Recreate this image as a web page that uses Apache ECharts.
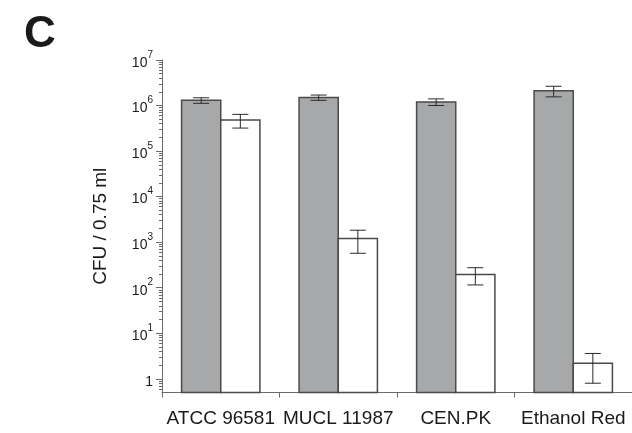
<!DOCTYPE html>
<html>
<head>
<meta charset="utf-8">
<script src="https://cdn.jsdelivr.net/npm/echarts@6/dist/echarts.min.js"></script>
<style>
  html, body { margin: 0; padding: 0; background: #fff; }
  #chart { width: 632px; height: 433px; }
</style>
</head>
<body>
<div id="chart"></div>
<script>
// Strains on the x axis
const strains = ['ATCC 96581', 'MUCL 11987', 'CEN.PK', 'Ethanol Red'];

// Grey bars: CFU per 0.75 ml with standard deviation
const cfuGrey = [1.3e6, 1.5e6, 1.2e6, 2.1e6];
const sdGrey = [0.18e6, 0.2e6, 0.2e6, 0.55e6];

// Open bars: CFU per 0.75 ml with standard deviation
const cfuOpen = [4.8e5, 1200, 195, 2.2];
const sdOpen = [1.6e5, 630, 80, 1.4];

// Log axis range and tick marks
const yMin = 0.5;
const yMax = 1e7;
const majorTicks = [1, 10, 100, 1e3, 1e4, 1e5, 1e6, 1e7];
const minorMultipliers = [2, 3, 4, 5, 6, 7, 8, 9];

const minorTicks = [0.6, 0.7, 0.8, 0.9];
majorTicks.slice(0, -1).forEach(function (d) {
  minorMultipliers.forEach(function (m) { minorTicks.push(m * d); });
});

const FONT = "'Liberation Sans', Arial, Helvetica, sans-serif";
const INK = '#1a1a1a';
const AXIS = '#6b6b6b';
const EDGE = '#4a4a4a';

function pairs(values, sds) {
  return values.map(function (v, i) { return sds ? [i, v, sds[i]] : [i, v]; });
}

// Bars sit side by side in each category, each a third of the band wide,
// and rise from the bottom of the log axis.
function barRenderer(side, fill) {
  return function (params, api) {
    const i = api.value(0);
    const top = api.coord([i, api.value(1)]);
    const base = api.coord([i, yMin]);
    const w = api.size([1, 1])[0] / 3;
    const x = side < 0 ? top[0] - w : top[0];
    return {
      type: 'rect',
      shape: { x: x, y: top[1], width: w, height: base[1] - top[1] },
      style: { fill: fill, stroke: EDGE, lineWidth: 1.5 }
    };
  };
}

function errorRenderer(side) {
  return function (params, api) {
    const i = api.value(0);
    const v = api.value(1);
    const sd = api.value(2);
    const c = api.coord([i, v]);
    const w = api.size([1, 1])[0] / 3;
    const cx = c[0] + side * w / 2;
    const hi = api.coord([i, v + sd])[1];
    const lo = api.coord([i, v - sd])[1];
    const cap = 8;
    const st = { stroke: '#2a2a2a', lineWidth: 1 };
    return {
      type: 'group',
      children: [
        { type: 'line', shape: { x1: cx, y1: hi, x2: cx, y2: lo }, style: st },
        { type: 'line', shape: { x1: cx - cap, y1: hi, x2: cx + cap, y2: hi }, style: st },
        { type: 'line', shape: { x1: cx - cap, y1: lo, x2: cx + cap, y2: lo }, style: st }
      ]
    };
  };
}

const chart = echarts.init(document.getElementById('chart'), null, { renderer: 'canvas' });

chart.setOption({
  animation: false,
  backgroundColor: '#fff',
  title: {
    text: 'C',
    left: 19,
    top: 8,
    textStyle: { fontFamily: FONT, fontSize: 44, fontWeight: 'bold', color: INK }
  },
  grid: {
    left: 162, right: 0, top: 60, bottom: 40.5,
    outerBoundsMode: 'none'
  },
  xAxis: {
    type: 'category',
    data: strains,
    boundaryGap: true,
    axisLine: { lineStyle: { color: AXIS, width: 1 } },
    axisTick: { show: true, length: 5, alignWithLabel: false, interval: 0, lineStyle: { color: AXIS } },
    axisLabel: { interval: 0, margin: 17, color: INK, fontFamily: FONT, fontSize: 19 },
    splitLine: { show: false }
  },
  yAxis: [
    {
      type: 'log',
      logBase: 10,
      min: yMin,
      max: yMax,
      position: 'left',
      name: 'CFU / 0.75 ml',
      nameLocation: 'middle',
      nameRotate: 90,
      nameGap: 52,
      nameTextStyle: { fontFamily: FONT, fontSize: 19, color: INK },
      axisLine: { show: true, lineStyle: { color: AXIS, width: 1 } },
      axisTick: { show: true, length: 6, customValues: majorTicks, lineStyle: { color: AXIS } },
      axisLabel: {
        customValues: majorTicks,
        margin: 9,
        formatter: function (v) {
          const e = Math.round(Math.log10(v));
          return e === 0 ? '{b|1}' : '{b|10}{s|' + e + '}';
        },
        rich: {
          b: { fontFamily: FONT, fontSize: 14, color: INK, lineHeight: 20, verticalAlign: 'bottom' },
          s: { fontFamily: FONT, fontSize: 10, color: INK, lineHeight: 20, verticalAlign: 'top' }
        }
      },
      splitLine: { show: false }
    },
    {
      type: 'log',
      logBase: 10,
      min: yMin,
      max: yMax,
      position: 'left',
      axisLine: { show: false },
      axisTick: { show: true, length: 3, customValues: minorTicks, lineStyle: { color: AXIS } },
      axisLabel: { show: false },
      splitLine: { show: false }
    }
  ],
  series: [
    {
      type: 'custom',
      yAxisIndex: 0,
      renderItem: barRenderer(-1, '#a7a8aa'),
      encode: { x: 0, y: 1 },
      data: pairs(cfuGrey),
      z: 2
    },
    {
      type: 'custom',
      yAxisIndex: 0,
      renderItem: barRenderer(1, '#ffffff'),
      encode: { x: 0, y: 1 },
      data: pairs(cfuOpen),
      z: 2
    },
    {
      type: 'custom',
      yAxisIndex: 0,
      renderItem: errorRenderer(-1),
      encode: { x: 0, y: 1 },
      data: pairs(cfuGrey, sdGrey),
      z: 3
    },
    {
      type: 'custom',
      yAxisIndex: 0,
      renderItem: errorRenderer(1),
      encode: { x: 0, y: 1 },
      data: pairs(cfuOpen, sdOpen),
      z: 3
    }
  ]
});
</script>
</body>
</html>
